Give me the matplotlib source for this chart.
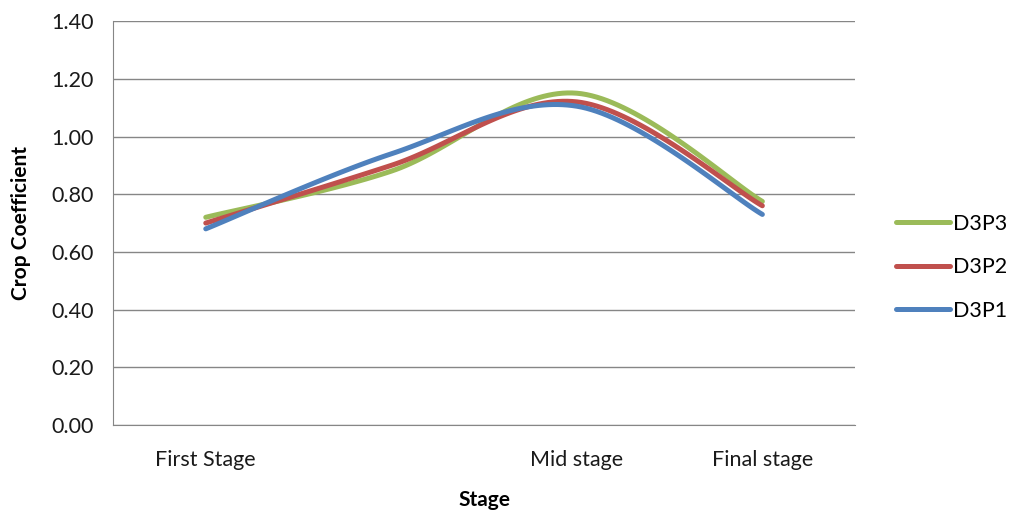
import numpy as np
import matplotlib
matplotlib.use("Agg")
import matplotlib.pyplot as plt

plt.rcParams['font.family'] = ['Lato', 'DejaVu Sans']

# data
stages = ['First Stage', '', 'Mid stage', 'Final stage']
d3p3 = [0.72, 0.88, 1.15, 0.775]
d3p2 = [0.70, 0.90, 1.12, 0.76]
d3p1 = [0.68, 0.94, 1.105, 0.73]

series = [('D3P3', d3p3, '#9BBB59'),
          ('D3P2', d3p2, '#C0504D'),
          ('D3P1', d3p1, '#4F81BD')]


def smooth(xs, ys, n=40):
    # Excel style smoothed line: cubic bezier through the points
    xs = np.asarray(xs, float)
    ys = np.asarray(ys, float)
    px = np.concatenate([[xs[0]], xs, [xs[-1]]])
    py = np.concatenate([[ys[0]], ys, [ys[-1]]])
    outx, outy = [], []
    t = np.linspace(0, 1, n)
    for i in range(len(xs) - 1):
        p0 = np.array([px[i + 1], py[i + 1]])
        p3 = np.array([px[i + 2], py[i + 2]])
        c1 = p0 + (p3 - np.array([px[i], py[i]])) / 6
        c2 = p3 - (np.array([px[i + 3], py[i + 3]]) - p0) / 6
        b = ((1 - t) ** 3)[:, None] * p0 + (3 * (1 - t) ** 2 * t)[:, None] * c1 \
            + (3 * (1 - t) * t ** 2)[:, None] * c2 + (t ** 3)[:, None] * p3
        outx.extend(b[:, 0])
        outy.extend(b[:, 1])
    return np.array(outx), np.array(outy)


fig = plt.figure(figsize=(10.18, 5.14), dpi=100)
ax = fig.add_axes([0.111, 0.173, 0.729, 0.786])

x = np.arange(len(stages))
handles = []
for name, vals, col in series:
    sx, sy = smooth(x, vals)
    h, = ax.plot(sx, sy, color=col, lw=3.6, solid_capstyle='round', label=name)
    handles.append(h)

ax.set_xlim(-0.5, 3.5)
ax.set_ylim(0, 1.4)
ax.set_yticks(np.arange(0, 1.41, 0.2))
ax.set_yticklabels([f'{v:.2f}' for v in np.arange(0, 1.41, 0.2)])
ax.set_xticks(x)
ax.set_xticklabels(stages)
ax.yaxis.grid(True, color='#868686', lw=1)
ax.set_axisbelow(True)
for s in ['top', 'right']:
    ax.spines[s].set_visible(False)
for s in ['left', 'bottom']:
    ax.spines[s].set_color('#868686')
ax.tick_params(axis='both', length=0, labelsize=15.5, colors='#1a1a1a')
ax.tick_params(axis='y', pad=14)
ax.tick_params(axis='x', pad=18)

ax.set_ylabel('Crop Coefficient', fontsize=15, fontweight='bold')
ax.set_xlabel('Stage', fontsize=15, fontweight='bold')
ax.yaxis.set_label_coords(-0.11, 0.5)
ax.xaxis.set_label_coords(0.5, -0.16)

fig.legend(handles=handles, loc='center left', bbox_to_anchor=(0.861, 0.48),
           frameon=False, fontsize=15.5, handlelength=2.5, labelspacing=1.1,
           handletextpad=0.15)

fig.savefig('out.png', dpi=100)
